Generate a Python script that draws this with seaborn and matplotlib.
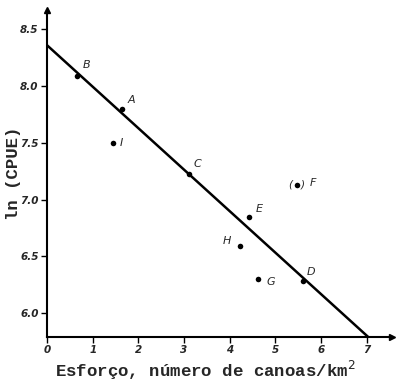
import matplotlib
matplotlib.use("Agg")
import matplotlib.pyplot as plt
import seaborn as sns
import pandas as pd

labels = ["A", "B", "C", "D", "E", "F", "G", "H", "I"]
esforco = [1.64, 0.66, 3.11, 5.60, 4.42, 5.47, 4.62, 4.22, 1.44]
ln_cpue = [7.80, 8.09, 7.23, 6.28, 6.85, 7.13, 6.30, 6.59, 7.50]
line_x = [0.0, 7.03]
line_y = [8.36, 5.79]
x_ticks = [0, 1, 2, 3, 4, 5, 6, 7]
y_ticks = [6.0, 6.5, 7.0, 7.5, 8.0, 8.5]

sns.set_style("white")
plt.rcParams['font.family'] = ['DejaVu Sans']

df = pd.DataFrame({"x": esforco, "y": ln_cpue, "lab": labels})
dl = pd.DataFrame({"x": line_x, "y": line_y})

fig = plt.figure(figsize=(4.0, 3.88), dpi=100)
ax = fig.add_axes([47/400, 51/388, 345/400, 327/388])

sns.lineplot(data=dl, x="x", y="y", ax=ax, color="black", linewidth=1.8)
sns.scatterplot(data=df, x="x", y="y", ax=ax, color="black", s=16, edgecolor="black", linewidth=0, zorder=5)

offsets = {"A": (4, 3), "B": (4, 4), "C": (3, 3), "D": (3, 3), "E": (5, 2),
           "F": (9, 1), "G": (6, -2), "H": (-12, 0), "I": (5, 0)}
centered = {"F", "G", "I"}
for lab, x, y in zip(labels, esforco, ln_cpue):
    dx, dy = offsets[lab]
    ax.annotate(lab, (x, y), xytext=(dx, dy), textcoords="offset points",
                fontsize=8, style="italic", ha="left",
                va="center" if lab in centered else "bottom")
ax.annotate("(", (5.47, 7.13), xytext=(-3.5, 0), textcoords="offset points",
            fontsize=7.5, style="italic", ha="right", va="center")
ax.annotate(")", (5.47, 7.13), xytext=(3, 0), textcoords="offset points",
            fontsize=7.5, style="italic", ha="left", va="center")

ax.set_xlim(0, 7.55)
ax.set_ylim(5.79, 8.67)
ax.set_xticks(x_ticks)
ax.set_yticks(y_ticks)
ax.set_xticklabels([str(t) for t in x_ticks], fontsize=7.5, style="italic", fontweight="bold")
ax.set_yticklabels([f"{t:.1f}" for t in y_ticks], fontsize=7.5, style="italic", fontweight="bold")
ax.tick_params(axis="both", direction="out", length=4, width=1, color="black", pad=2)
ax.tick_params(axis="x", bottom=True)
ax.tick_params(axis="y", left=True)

for s in ["top", "right"]:
    ax.spines[s].set_visible(False)
for s in ["left", "bottom"]:
    ax.spines[s].set_linewidth(1.5)
    ax.spines[s].set_color("black")
ax.plot(1, 0, ">k", transform=ax.transAxes, clip_on=False, markersize=5)
ax.plot(0, 1, "^k", transform=ax.transAxes, clip_on=False, markersize=5)

ax.set_xlabel("Esforço, número de canoas/km$^2$", family="Liberation Mono",
              fontweight="bold", fontsize=12.5)
ax.set_ylabel("ln (CPUE)", family="Liberation Mono", fontweight="bold", fontsize=12.5)
ax.xaxis.set_label_coords(0.46, -0.068)
ax.yaxis.set_label_coords(-0.075, 0.5)

fig.savefig("out.png", dpi=100)
